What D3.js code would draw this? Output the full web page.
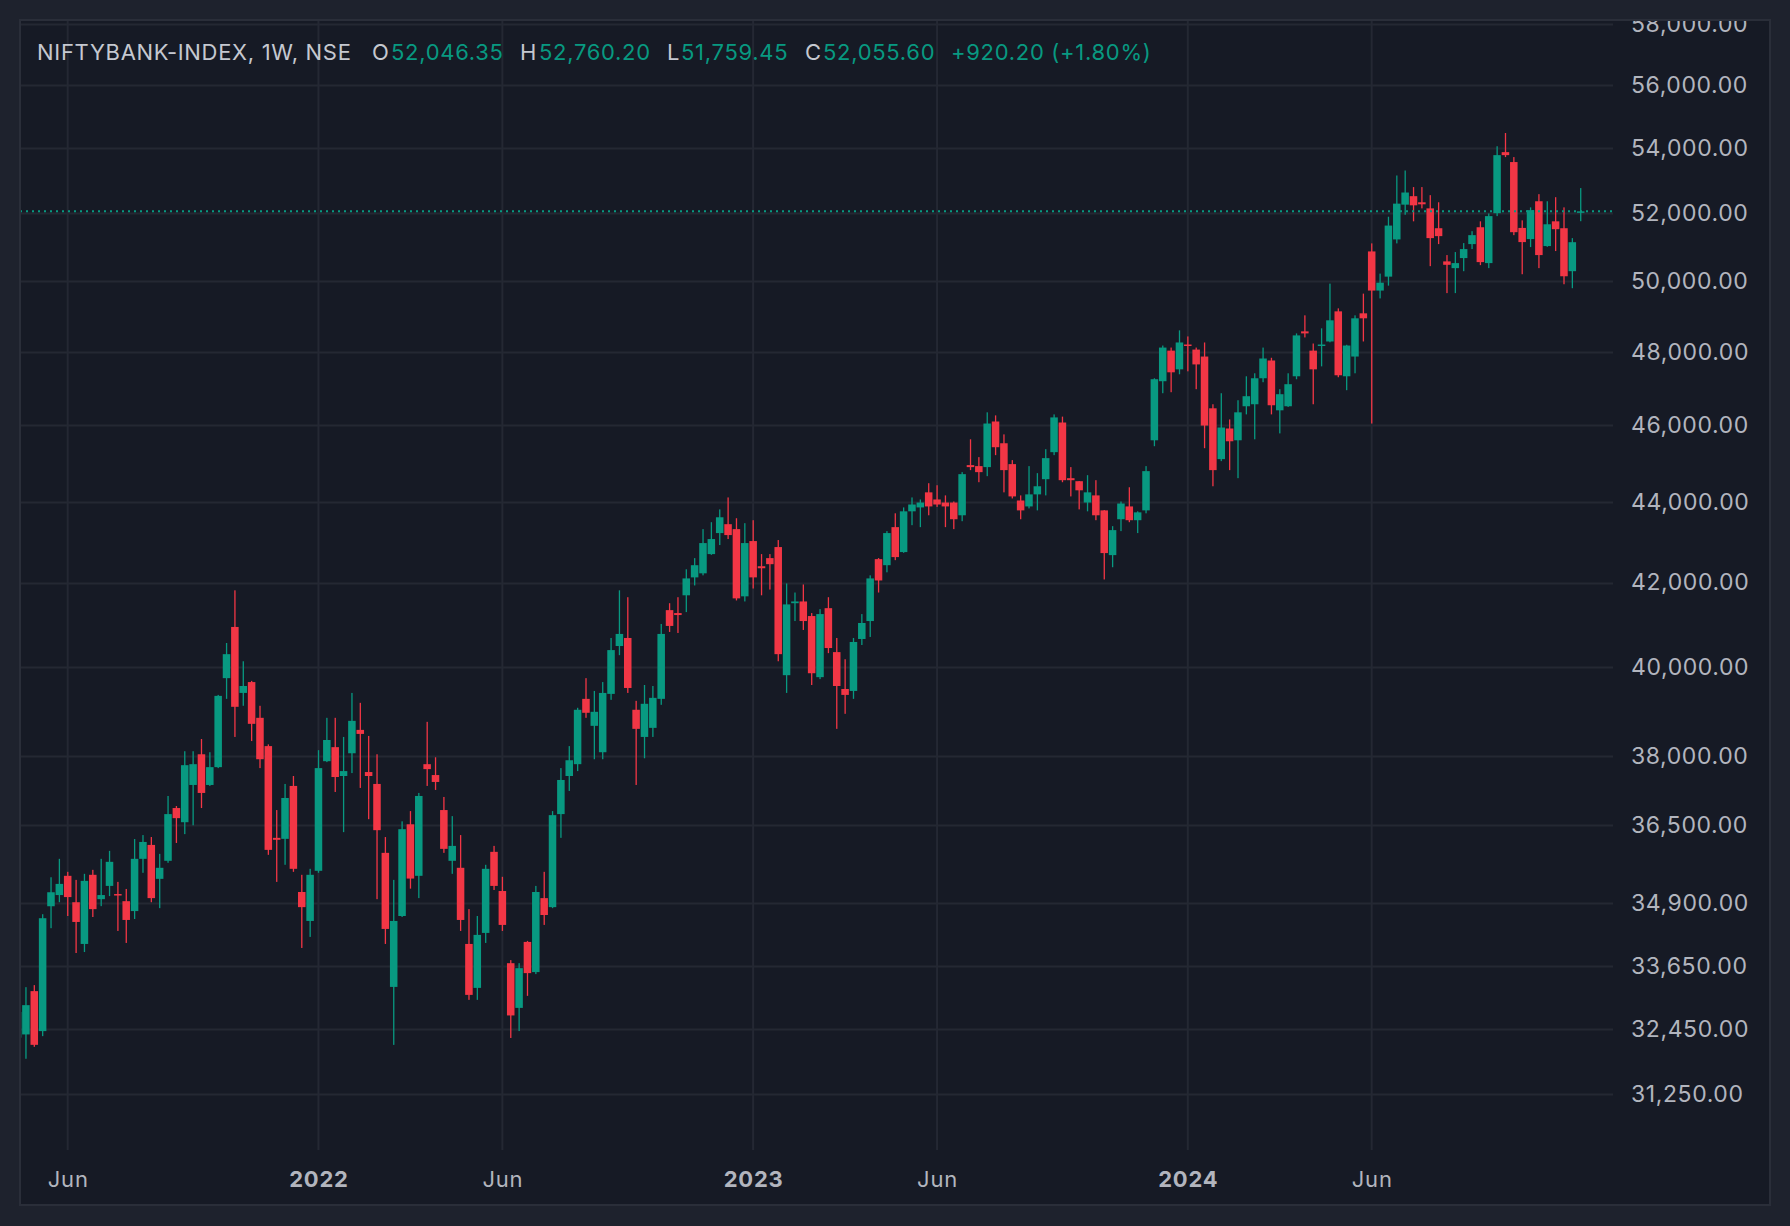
<!DOCTYPE html>
<html>
<head>
<meta charset="utf-8">
<script src="https://cdn.jsdelivr.net/npm/d3@7"></script>
<style>
  html, body { margin: 0; padding: 0; background: #1e222d; }
  svg { display: block; }
  text { font-family: Inter, "Noto Sans", sans-serif; }
</style>
</head>
<body>
<div id="chart"></div>
<script>
// weekly bars, first Monday to last Monday
var firstWeek = new Date(Date.UTC(2021, 3, 26))
var lastWeek = new Date(Date.UTC(2024, 10, 25))

var open = [32284, 32345, 33165, 32407, 34833, 35059, 35451, 34914, 34082, 35472,
  34976, 35245, 35080, 34935, 34736, 35801, 36090, 35389, 35760, 36868,
  36567, 37363, 38032, 37363, 37750, 39743, 40937, 39405, 39653, 38842,
  38212, 36238, 36217, 37342, 35121, 34538, 35554, 37880, 38189, 37557,
  38054, 38572, 37643, 37385, 35925, 33246, 34637, 36523, 35451, 37815,
  37578, 36825, 35760, 35616, 34082, 33227, 34300, 35946, 35141, 33705,
  32845, 34122, 33532, 34997, 34815, 36739, 37557, 37815, 39270, 38662,
  38077, 39383, 40488, 40677, 39023, 38415, 38617, 39270, 41337, 41267,
  41693, 42127, 42226, 42698, 43220, 43443, 43319, 41668, 43021, 42400,
  42599, 42872, 39811, 41503, 41545, 41196, 39766, 41384, 40346, 39495,
  39450, 40653, 41077, 42574, 42425, 43369, 42748, 43767, 43866, 44250,
  44068, 43990, 43990, 43667, 44952, 44926, 44900, 46100, 45524, 44978,
  44042, 43891, 44198, 44588, 45290, 46073, 44614, 44536, 43990, 44172,
  43791, 42673, 43567, 43891, 43543, 43791, 45602, 47186, 48028, 47511,
  48198, 48057, 47864, 46453, 45108, 45914, 45602, 46508, 46562, 47267,
  47755, 46399, 46508, 47321, 48566, 48028, 48170, 48283, 49131, 47321,
  47864, 49075, 50863, 49725, 50127, 51217, 52257, 52514, 52329, 52145,
  51550, 50571, 50374, 50668, 51079, 51579, 50521, 52000, 53868, 53560,
  51559, 51227, 52360, 51021, 51756, 51550, 50285, 52046.35]

var high = [32900, 33241, 33280, 34673, 35422, 35801, 35533, 35368, 35492, 35574,
  35801, 35966, 35327, 35183, 36213, 36296, 36255, 35904, 37126, 36911,
  38099, 38099, 38369, 38077, 39360, 40559, 41813, 40133, 39680, 39113,
  38250, 36825, 37385, 37557, 35472, 35595, 38122, 38842, 38842, 38415,
  39405, 39180, 38437, 38032, 36255, 35368, 36586, 36803, 37191, 38752,
  37966, 37105, 36696, 36296, 34775, 34637, 35678, 36070, 35431, 33765,
  33705, 34142, 35245, 35533, 36803, 37729, 38212, 39068, 39743, 39450,
  39653, 40677, 41813, 41647, 39225, 39586, 39563, 41008, 41503, 41647,
  42325, 42599, 43319, 43493, 43816, 44120, 43593, 43468, 43543, 42698,
  42698, 43046, 41979, 41760, 41955, 41267, 41361, 41647, 40677, 40180,
  40677, 41243, 42177, 42600, 43269, 43717, 43866, 44120, 44068, 44484,
  44432, 44172, 44016, 44770, 45628, 45160, 46345, 46263, 45758, 45082,
  44172, 44926, 44744, 45368, 46290, 46230, 44900, 44540, 44692, 44562,
  43800, 43394, 44016, 44380, 43767, 44926, 47267, 48170, 48113, 48594,
  48424, 48113, 48255, 46562, 46860, 46155, 46670, 47321, 47403, 48113,
  47830, 46969, 47403, 48509, 49018, 48226, 48651, 49925, 49216, 48190,
  49018, 49637, 51100, 50215, 51894, 53146, 53299, 52791, 52791, 52545,
  52329, 50756, 50844, 51109, 51462, 51756, 51991, 54052, 54467, 53714,
  51785, 52175, 52575, 52360, 52483, 52175, 51256, 52760.20]

var low = [32100, 31893, 32114, 32313, 34394, 34914, 34637, 33904, 33923, 34617,
  34835, 35038, 34339, 34102, 34577, 35513, 34914, 34795, 35719, 36131,
  36316, 36502, 36868, 37342, 37729, 39270, 38415, 39113, 38324, 37729,
  35884, 35327, 35678, 35533, 34003, 34221, 35513, 37860, 37212, 36358,
  37621, 37299, 36631, 34976, 34082, 32150, 34617, 35189, 34997, 37342,
  37256, 35925, 35492, 34339, 32998, 32998, 34102, 35162, 34339, 32279,
  32408, 33074, 33493, 34459, 34795, 36238, 37234, 37664, 38842, 37923,
  37923, 39248, 40275, 39405, 37363, 37944, 38415, 39135, 40819, 40795,
  41290, 41931, 42177, 42680, 42922, 43071, 41569, 41545, 41857, 41693,
  41832, 40133, 39405, 41077, 40866, 39586, 39721, 40322, 38595, 38932,
  39270, 40512, 40701, 41760, 42251, 42549, 42730, 43418, 43369, 43667,
  43880, 43369, 43319, 43518, 44822, 44510, 44666, 45212, 44250, 44094,
  43567, 43841, 43791, 44172, 45212, 44510, 44146, 43816, 43767, 43543,
  42077, 42375, 43269, 43493, 43220, 43717, 45446, 46860, 46887, 47376,
  47457, 46969, 45394, 44406, 45056, 44822, 44614, 46290, 45628, 47159,
  46290, 45784, 46490, 47240, 48396, 46562, 47593, 48260, 47295, 46942,
  47403, 48283, 46046, 49500, 49867, 51100, 51953, 51756, 52145, 50432,
  51079, 49652, 49652, 50285, 50932, 50462, 50374, 51912, 53714, 51344,
  50197, 50991, 50374, 51000, 50874, 49907, 49793, 51759.45]

var close = [32769, 32897, 32151, 34593, 35116, 35286, 35018, 34518, 35348, 34775,
  35059, 35739, 35059, 34558, 35801, 36152, 34997, 35616, 36739, 36653,
  37793, 37815, 37191, 37750, 39338, 40298, 39090, 39563, 38707, 37923,
  35987, 36197, 37083, 35595, 34815, 35472, 37729, 38347, 37535, 37664,
  38774, 38482, 37557, 36399, 34379, 34538, 36420, 35395, 37126, 37707,
  37428, 36008, 36070, 34558, 33093, 34261, 35595, 35245, 34459, 32702,
  33608, 33512, 35121, 34657, 36717, 37471, 37901, 39023, 38955, 38977,
  39405, 40393, 40772, 39518, 38595, 39158, 39293, 40772, 40961, 41220,
  42102, 42425, 42971, 43071, 43617, 43170, 41619, 42971, 42127, 42350,
  42450, 40298, 41474, 41545, 41077, 39856, 41243, 40441, 39563, 39360,
  40583, 41031, 42102, 42052, 43220, 42624, 43767, 43940, 43990, 43891,
  43940, 43891, 43567, 44718, 44900, 44770, 46046, 45420, 44822, 44146,
  43791, 44198, 44406, 45134, 46209, 44562, 44562, 44302, 44250, 43667,
  42723, 43294, 43965, 43543, 43741, 44796, 47241, 48113, 47430, 48255,
  48170, 47647, 45992, 44822, 45940, 45576, 46345, 46779, 47267, 47810,
  46535, 46833, 47105, 48453, 48509, 47511, 48198, 48877, 47349, 48170,
  48934, 48934, 49725, 49952, 51629, 52288, 52625, 52237, 52268, 51256,
  51315, 50471, 50521, 50932, 51344, 50550, 51912, 53775, 53775, 51432,
  51138, 52092, 50756, 51668, 51521, 50138, 51135.40, 52055.60]

var priceTicks = [31250, 32450, 33650, 34900, 36500, 38000, 40000, 42000, 44000,
  46000, 48000, 50000, 52000, 54000, 56000, 58000]

var timeTicks = [new Date(Date.UTC(2021, 5, 7)), new Date(Date.UTC(2022, 0, 3)),
  new Date(Date.UTC(2022, 5, 6)), new Date(Date.UTC(2023, 0, 2)),
  new Date(Date.UTC(2023, 5, 5)), new Date(Date.UTC(2024, 0, 1)),
  new Date(Date.UTC(2024, 5, 3))]
var timeLabels = ["Jun", "2022", "Jun", "2023", "Jun", "2024", "Jun"]

var dates = d3.utcMonday.range(firstWeek, d3.utcDay.offset(lastWeek, 1))
var bars = dates.map(function(d, i) {
    return { date: d, o: open[i], h: high[i], l: low[i], c: close[i] }
})

var W = 1790, H = 1226
var frame = { left: 20, top: 20, right: 1770, bottom: 1205 }
var plotRight = 1613, plotBottom = 1150

var up = "#089981", down = "#f23645"
var gridColor = "#242833"
var textColor = "#b2b5be"

var svg = d3.select("#chart")
    .append("svg")
    .attr("width", W)
    .attr("height", H)

svg.append("rect")
    .attr("width", W)
    .attr("height", H)
    .attr("fill", "#1e222d")

svg.append("rect")
    .attr("x", frame.left)
    .attr("y", frame.top)
    .attr("width", frame.right - frame.left)
    .attr("height", frame.bottom - frame.top)
    .attr("fill", "#161a25")
    .attr("stroke", "#2a2e39")
    .attr("stroke-width", 2)

svg.append("clipPath")
    .attr("id", "plotclip")
    .append("rect")
    .attr("x", frame.left + 1)
    .attr("y", frame.top + 1)
    .attr("width", plotRight - frame.left - 1)
    .attr("height", plotBottom - frame.top - 1)

svg.append("clipPath")
    .attr("id", "frameclip")
    .append("rect")
    .attr("x", frame.left + 1)
    .attr("y", frame.top + 1)
    .attr("width", frame.right - frame.left - 2)
    .attr("height", frame.bottom - frame.top - 2)

// scales
var x = d3.scaleUtc()
    .domain([timeTicks[0], timeTicks[6]])
    .range([67.7, 1371.7])
var y = d3.scaleLog()
    .domain([31250, 56000])
    .range([1094, 85])

var step = x(dates[1]) - x(dates[0])
var bodyW = step * 0.9

// grid
var grid = svg.append("g").attr("clip-path", "url(#plotclip)")
grid.selectAll(".hg")
    .data(priceTicks)
    .enter()
    .append("line")
    .attr("x1", frame.left)
    .attr("x2", plotRight)
    .attr("y1", function(d) { return Math.round(y(d)) + 0.5 })
    .attr("y2", function(d) { return Math.round(y(d)) + 0.5 })
    .attr("stroke", gridColor)
    .attr("stroke-width", 2)
grid.selectAll(".vg")
    .data(timeTicks)
    .enter()
    .append("line")
    .attr("x1", function(d) { return x(d) })
    .attr("x2", function(d) { return x(d) })
    .attr("y1", frame.top)
    .attr("y2", plotBottom)
    .attr("stroke", gridColor)
    .attr("stroke-width", 2)

// candles
var candles = svg.append("g").attr("clip-path", "url(#plotclip)")
var g = candles.selectAll(".candle")
    .data(bars)
    .enter()
    .append("g")
    .attr("fill", function(d) { return d.c >= d.o ? up : down })

g.append("rect")
    .attr("x", function(d) { return x(d.date) - 0.6 })
    .attr("width", 1.3)
    .attr("y", function(d) { return y(d.h) })
    .attr("height", function(d) { return y(d.l) - y(d.h) })

g.append("rect")
    .attr("x", function(d) { return x(d.date) - bodyW / 2 })
    .attr("width", bodyW)
    .attr("y", function(d) { return y(Math.max(d.o, d.c)) })
    .attr("height", function(d) { return Math.max(1.5, Math.abs(y(d.o) - y(d.c))) })

// last price line
var last = bars[bars.length - 1]
candles.append("line")
    .attr("x1", frame.left)
    .attr("x2", plotRight)
    .attr("y1", y(last.c))
    .attr("y2", y(last.c))
    .attr("stroke", up)
    .attr("stroke-width", 2)
    .attr("stroke-dasharray", "2,4")

// price axis (clip on outer group, shift on inner one)
var yAxis = svg.append("g")
    .attr("clip-path", "url(#frameclip)")
    .append("g")
    .attr("transform", "translate(" + 1631 + ",0)")
    .call(d3.axisRight(y).tickValues(priceTicks).tickFormat(d3.format(",.2f")).tickSize(0).tickPadding(0))
yAxis.select(".domain").remove()
yAxis.selectAll("text")
    .attr("fill", textColor)
    .attr("font-size", 23)
    .attr("font-family", "Inter, sans-serif")
    .attr("letter-spacing", 0.6)

// time axis
var xAxis = svg.append("g")
    .attr("transform", "translate(0," + 1171 + ")")
    .call(d3.axisBottom(x).tickValues(timeTicks).tickFormat(function(d, i) { return timeLabels[i] }).tickSize(0).tickPadding(0))
xAxis.select(".domain").remove()
xAxis.selectAll("text")
    .attr("fill", textColor)
    .attr("font-size", 22)
    .attr("letter-spacing", 0.8)
    .attr("font-family", "Inter, sans-serif")
    .attr("font-weight", function(d, i) { return /^\d/.test(timeLabels[i]) ? 700 : 400 })

// legend
var legend = svg.append("text")
    .attr("y", 52)
    .attr("dy", "0.35em")
    .attr("font-size", 22)
    .attr("letter-spacing", 0.7)
var fmt = d3.format(",.2f")
var parts = [
    { t: "NIFTYBANK-INDEX, 1W, NSE", x: 37, c: "#c5c8d0" },
    { t: "O", x: 372, c: "#c5c8d0" }, { t: fmt(last.o), x: 391, c: up },
    { t: "H", x: 520, c: "#c5c8d0" }, { t: fmt(last.h), x: 539, c: up },
    { t: "L", x: 667, c: "#c5c8d0" }, { t: fmt(last.l), x: 681, c: up },
    { t: "C", x: 805, c: "#c5c8d0" }, { t: fmt(last.c), x: 823, c: up },
    { t: "+" + fmt(last.c - bars[bars.length - 2].c) + " (+" +
        d3.format(".2f")((last.c / bars[bars.length - 2].c - 1) * 100) + "%)", x: 951, c: up }
]
legend.selectAll("tspan")
    .data(parts)
    .enter()
    .append("tspan")
    .attr("x", function(d) { return d.x })
    .attr("fill", function(d) { return d.c })
    .text(function(d) { return d.t })
</script>
</body>
</html>
